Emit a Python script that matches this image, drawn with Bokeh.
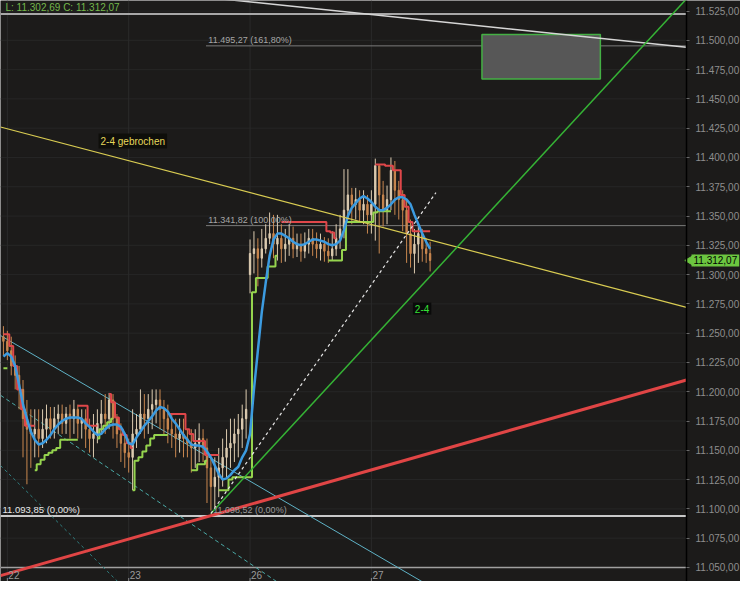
import numpy as np
from bokeh.plotting import figure
from bokeh.models import Range1d, FixedTicker, Label, ColumnDataSource
from bokeh.embed import file_html
from bokeh.resources import INLINE

N = None
# ---------------- data ----------------
bars = list(range(-1, 109))
opens = [11247, 11243, 11235, 11222, 11214, 11202, 11177, 11168, 11164, 11168,
         11160, 11168, 11177, 11168, 11177, 11181, 11173, 11181, 11177, 11185,
         11173, 11177, 11168, 11160, 11164, 11173, 11181, 11177, 11193, 11177,
         11164, 11156, 11148, 11144, 11164, 11168, 11181, 11177, 11185, 11189,
         11193, 11185, 11177, 11168, 11164, 11160, 11164, 11160, 11156, 11152,
         11156, 11160, 11152, 11135, 11119, 11127, 11135, 11144, 11152, 11156,
         11164, 11168, 11177, 11300, 11318, 11322, 11314, 11322, 11331, 11335,
         11326, 11331, 11322, 11326, 11331, 11322, 11326, 11320, 11326, 11331,
         11326, 11322, 11326, 11320, 11316, 11322, 11331, 11339, 11355, 11368,
         11360, 11364, 11355, 11360, 11351, 11360, 11393, 11368, 11355, 11364,
         11389, 11372, 11364, 11355, 11335, 11318, 11326, 11335, 11322, 11318]
closes = [11243, 11235, 11222, 11214, 11202, 11177, 11168, 11164, 11168, 11160,
          11168, 11177, 11168, 11177, 11181, 11173, 11181, 11177, 11185, 11173,
          11177, 11168, 11160, 11164, 11173, 11181, 11177, 11193, 11177, 11164,
          11156, 11148, 11144, 11164, 11168, 11181, 11177, 11185, 11189, 11193,
          11185, 11177, 11168, 11164, 11160, 11164, 11160, 11156, 11152, 11156,
          11160, 11152, 11135, 11119, 11127, 11135, 11144, 11152, 11156, 11164,
          11168, 11177, 11185, 11318, 11322, 11314, 11322, 11331, 11335, 11326,
          11331, 11322, 11326, 11331, 11322, 11326, 11320, 11326, 11331, 11326,
          11322, 11326, 11320, 11316, 11322, 11331, 11339, 11355, 11368, 11360,
          11364, 11355, 11360, 11351, 11360, 11393, 11368, 11355, 11364, 11389,
          11372, 11364, 11355, 11335, 11318, 11326, 11335, 11322, 11318, 11312.07]
highs = [11256, 11252, 11247, 11231, 11222, 11210, 11193, 11185, 11185, 11185,
         11185, 11189, 11187, 11187, 11189, 11189, 11187, 11189, 11193, 11189,
         11185, 11185, 11177, 11181, 11185, 11193, 11198, 11199, 11198, 11181,
         11173, 11164, 11160, 11185, 11181, 11202, 11198, 11198, 11202, 11202,
         11202, 11193, 11189, 11181, 11177, 11177, 11177, 11168, 11168, 11168,
         11173, 11168, 11160, 11144, 11144, 11152, 11160, 11168, 11177, 11177,
         11181, 11189, 11202, 11330, 11337, 11331, 11339, 11343, 11353, 11351,
         11351, 11343, 11339, 11343, 11341, 11335, 11335, 11336, 11339, 11339,
         11336, 11335, 11332, 11331, 11337, 11343, 11351, 11390, 11390, 11374,
         11374, 11372, 11372, 11368, 11372, 11399, 11393, 11380, 11376, 11400,
         11397, 11380, 11372, 11364, 11347, 11339, 11343, 11339, 11331, 11328]
lows = [11231, 11227, 11214, 11202, 11185, 11144, 11121, 11135, 11144, 11144,
        11152, 11156, 11160, 11160, 11164, 11164, 11164, 11160, 11164, 11160,
        11160, 11152, 11148, 11144, 11156, 11164, 11164, 11168, 11160, 11152,
        11140, 11135, 11131, 11116, 11152, 11164, 11160, 11164, 11168, 11173,
        11168, 11164, 11156, 11152, 11144, 11148, 11144, 11144, 11131, 11135,
        11140, 11140, 11105, 11098.5, 11099, 11110, 11119, 11127, 11135, 11140,
        11144, 11152, 11160, 11284, 11301, 11290, 11306, 11318, 11326, 11314,
        11312, 11310, 11311, 11316, 11314, 11315, 11311, 11314, 11318, 11316,
        11314, 11312, 11311, 11310, 11312, 11316, 11322, 11331, 11347, 11343,
        11347, 11345, 11343, 11335, 11335, 11329, 11318, 11341, 11343, 11355,
        11351, 11347, 11337, 11310, 11306, 11301, 11310, 11311, 11310, 11302.69]
ma_blue = [11230, 11233, 11230, 11222, 11206, 11189, 11177, 11166, 11159, 11155,
           11156, 11159, 11163, 11168, 11172, 11175, 11177, 11178, 11178, 11178,
           11177, 11173, 11170, 11166, 11163, 11164, 11168, 11171, 11172, 11172,
           11170, 11164, 11156, 11155, 11161, 11166, 11171, 11175, 11179, 11184,
           11187, 11186, 11183, 11177, 11173, 11168, 11163, 11159, 11155, 11154,
           11154, 11153, 11149, 11144, 11137, 11130, 11125, 11126, 11129, 11133,
           11136, 11144, 11150, 11164, 11202, 11235, 11268, 11293, 11316, 11330,
           11335, 11335, 11333, 11331, 11328, 11326, 11325, 11326, 11328, 11330,
           11330, 11329, 11328, 11326, 11325, 11326, 11329, 11338, 11350, 11357,
           11361, 11365, 11367, 11365, 11362, 11358, 11355, 11355, 11357, 11360,
           11364, 11366, 11366, 11364, 11360, 11351, 11343, 11335, 11328, 11322]
stop_red = [11249, 11249, 11239, 11222, 11202, 11185, 11171, 11171, 11171, N,
            N, N, N, N, N, N, N, N, N, 11188,
            11188, 11188, 11171, 11171, 11171, N, N, 11198, 11191, 11178,
            11168, 11163, 11156, 11152, N, N, N, N, N, N,
            N, N, 11181, 11181, 11181, 11181, 11181, 11168, 11164, 11158,
            11158, 11158, 11146, 11146, 11146, 11146, N, N, N, N,
            N, N, N, N, N, N, N, N, N, N,
            N, 11345, 11345, 11345, 11345, 11345, 11345, 11345, 11345, 11345,
            11345, 11345, 11345, 11337, 11336, 11331, N, N, N, N,
            N, N, N, N, N, 11394, 11394, 11394, 11393, 11393,
            11389, 11389, 11368, 11358, 11345, 11337, 11337, 11337, 11337, 11337]
stop_green = [11220, 11220, N, N, N, N, N, N, 11133, 11138,
              11142, 11146, 11148, 11150, 11152, 11159, 11159, 11159, 11159, 11159,
              N, N, N, N, 11160, 11168, 11171, 11174, 11177, N,
              N, N, N, 11116, 11141, 11144, 11149, 11154, 11160, 11163,
              11163, 11163, 11163, N, N, N, N, N, 11133, 11133,
              11138, 11138, 11141, N, N, 11116, 11116, 11116, 11125, 11127,
              11127, 11127, 11127, 11127, 11285, 11297, 11297, 11297, 11307, 11307,
              11316, N, N, N, N, N, N, N, N, N,
              N, N, N, 11312, 11312, 11312, 11312, 11321, 11345, 11345,
              11345, 11345, 11345, 11345, 11345, 11353, 11354, 11354, 11354, 11354,
              N, N, N, N, N, N, N, N, N, N]

day_ticks = [0, 31, 62, 93]
day_labels = ["22", "23", "26", "27"]
price_ticks = [11050, 11075, 11100, 11125, 11150, 11175, 11200, 11225, 11250, 11275,
               11300, 11325, 11350, 11375, 11400, 11425, 11450, 11475, 11500, 11525]
price_labels = ["11.050,00", "11.075,00", "11.100,00", "11.125,00", "11.150,00",
                "11.175,00", "11.200,00", "11.225,00", "11.250,00", "11.275,00",
                "11.300,00", "11.325,00", "11.350,00", "11.375,00", "11.400,00",
                "11.425,00", "11.450,00", "11.475,00", "11.500,00", "11.525,00"]

# drawing-tool anchors (bar index, price)
trend24_x, trend24_y = [-1.75, 173.5], [11426, 11272]
resist_x, resist_y = [-1.75, 173.5], [11555, 11494]
support_x, support_y = [-1.75, 173.5], [11043, 11210]
upline_x, upline_y = [52, 173.4], [11096, 11535]
updash_x, updash_y = [52, 109.5], [11096, 11370]
down1_x, down1_y = [-1.75, 110], [11248, 11030]
down2_x, down2_y = [-1.75, 75], [11197, 11024]
down3_x, down3_y = [-1.75, 30], [11137, 11032]
box_left, box_right, box_bottom, box_top = 121.25, 151.5, 11467, 11505
fib_start = 50.75
fib_levels = [11495.27, 11341.82]
fib_texts = ["11.495,27 (161,80%)", "11.341,82 (100,00%)"]
low_fib = 11098.52
low_fib_text = "11.098,52 (0,00%)"
base_level = 11093.85
base_text = "11.093,85 (0,00%)"
top_level = 11522.5
bottom_level = 11050
last_low = 11302.69
last_close = 11312.07

X0, X1 = -1.75, 173.5          # plotting area (left edge, price-axis position)
XEND = 187.3                   # right edge of the canvas incl. price scale
Y0, Y1 = 11038, 11534
W, H = 740, 581
BG = "#1c1b1a"
FONT = "Liberation Sans"

p = figure(width=W, height=H, output_backend="svg", toolbar_location=None,
           x_range=Range1d(X0, XEND), y_range=Range1d(Y0, Y1),
           y_axis_location="right", x_axis_location=None,
           background_fill_color=BG, border_fill_color=BG,
           min_border_left=0, min_border_top=0, min_border_bottom=0, min_border_right=0)
p.outline_line_color = None

ax = p.yaxis[0]
ax.fixed_location = X1
ax.ticker = FixedTicker(ticks=price_ticks)
ax.major_label_overrides = dict(zip(price_ticks, price_labels))
ax.major_label_text_color = "#8e8e8e"
ax.major_label_text_font = FONT
ax.major_label_text_font_size = "10px"
ax.major_label_standoff = 6
ax.axis_line_color = "#000000"
ax.axis_line_width = 1.5
ax.major_tick_line_color = "#6a6a6a"
ax.major_tick_out = 3
ax.major_tick_in = 0
ax.minor_tick_line_color = None

p.ygrid.grid_line_color = None
p.xgrid.grid_line_color = None
nt = len(price_ticks)
p.segment(x0=[X0] * nt, x1=[X1] * nt, y0=price_ticks, y1=price_ticks, line_color="#262626", line_width=1)
p.segment(x0=day_ticks, x1=day_ticks, y0=[Y0] * 4, y1=[Y1] * 4, line_color="#2a2a2a", line_width=1)

# horizontal levels
p.segment(x0=[X0, X0, X0], x1=[X1, X1, X1], y0=[top_level, base_level, bottom_level],
          y1=[top_level, base_level, bottom_level], line_color=["#a8a8a8", "#c8c8c8", "#a0a0a0"],
          line_width=[2, 2, 1.5])
p.segment(x0=[fib_start] * 2, x1=[X1] * 2, y0=fib_levels, y1=fib_levels,
          line_color="#7a7a7a", line_width=1)

# target box
p.quad(left=[box_left], right=[box_right], bottom=[box_bottom], top=[box_top],
       fill_color="#575757", line_color="#44b044", line_width=1.5)

# down channel
p.line(down1_x, down1_y, line_color="#5fb2c6", line_width=1)
p.line(down2_x, down2_y, line_color="#4aa9a6", line_width=1, line_dash="4 3")
p.line(down3_x, down3_y, line_color="#2f7f80", line_width=1, line_dash="3 3")

# candles
b = np.array(bars, dtype=float)
o = np.array(opens, dtype=float)
c = np.array(closes, dtype=float)
h = np.array(highs, dtype=float)
lo = np.array(lows, dtype=float)
col = np.where(c >= o, "#dccbb0", "#c9874f")
src = ColumnDataSource(dict(x=b, o=o, c=c, h=h, l=lo, col=col,
                            top=np.maximum(o, c), bot=np.minimum(o, c)))
p.segment(x0="x", x1="x", y0="l", y1="h", line_color="col", line_width=1, source=src)
p.vbar(x="x", width=0.35, top="top", bottom="bot", fill_color="col", line_color="col", source=src)

# indicators
p.step(b, np.array(stop_red, dtype=float), mode="center", line_color="#e0474a", line_width=2)
p.step(b, np.array(stop_green, dtype=float), mode="center", line_color="#95d44e", line_width=2)
p.line(b, np.array(ma_blue, dtype=float), line_color="#3c9be0", line_width=2.5)

# trend lines
p.line(resist_x, resist_y, line_color="#d6d6d6", line_width=1.5)
p.line(trend24_x, trend24_y, line_color="#d9cc52", line_width=1.2)
p.line(upline_x, upline_y, line_color="#35b335", line_width=1.5)
p.line(updash_x, updash_y, line_color="#e6e6e6", line_width=1.2, line_dash="3 3")
p.line(support_x, support_y, line_color="#e04545", line_width=3)

# texts
for lv, tx in zip(fib_levels, fib_texts):
    p.add_layout(Label(x=fib_start + 0.6, y=lv, text=tx, text_font=FONT, text_font_size="9px",
                       text_color="#a6a6a6", text_baseline="bottom", y_offset=1))
p.add_layout(Label(x=52 + 0.6, y=base_level, text=low_fib_text, text_font=FONT, text_font_size="9px",
                   text_color="#9a9a9a", text_baseline="bottom", y_offset=1))
p.add_layout(Label(x=X0, y=base_level, text=base_text, text_font=FONT, text_font_size="9.5px",
                   text_color="#e8e8e8", text_baseline="bottom", x_offset=2, y_offset=1))
p.add_layout(Label(x=23.3, y=11414, text="2-4 gebrochen", text_font=FONT, text_font_size="10px",
                   text_color="#e6d85a", text_baseline="middle", background_fill_color="#0e0e0a",
                   padding=2))
p.add_layout(Label(x=103.6, y=11271, text="2-4", text_font=FONT, text_font_size="10px",
                   text_color="#35e035", text_baseline="middle", background_fill_color="#0a0a0a",
                   padding=2))
p.add_layout(Label(x=X0, y=Y1, text="L: 11.302,69  C: 11.312,07", text_font=FONT,
                   text_font_size="10px", text_color="#74b84a", text_baseline="top",
                   x_offset=5, y_offset=-1))
for d, t in zip(day_ticks, day_labels):
    p.add_layout(Label(x=d, y=Y0, text=t, text_font=FONT, text_font_size="10px",
                       text_color="#9a9a9a", text_baseline="bottom", x_offset=1, y_offset=3))
p.segment(x0=day_ticks, x1=day_ticks, y0=[Y0] * 4, y1=[Y0 + 3] * 4, line_color="#8a8a8a")

# last price tag on the price scale
p.scatter(x=[X1 + 1.2], y=[last_close], marker="triangle", size=11, angle=np.pi / 2,
          fill_color="#6cc640", line_color="#6cc640")
p.add_layout(Label(x=X1, y=last_close, text="11.312,07", text_font=FONT, text_font_size="10px",
                   text_color="#000000", text_baseline="middle", background_fill_color="#6cc640",
                   x_offset=5, padding=2))

open("out.html", "w").write(file_html(p, INLINE))
